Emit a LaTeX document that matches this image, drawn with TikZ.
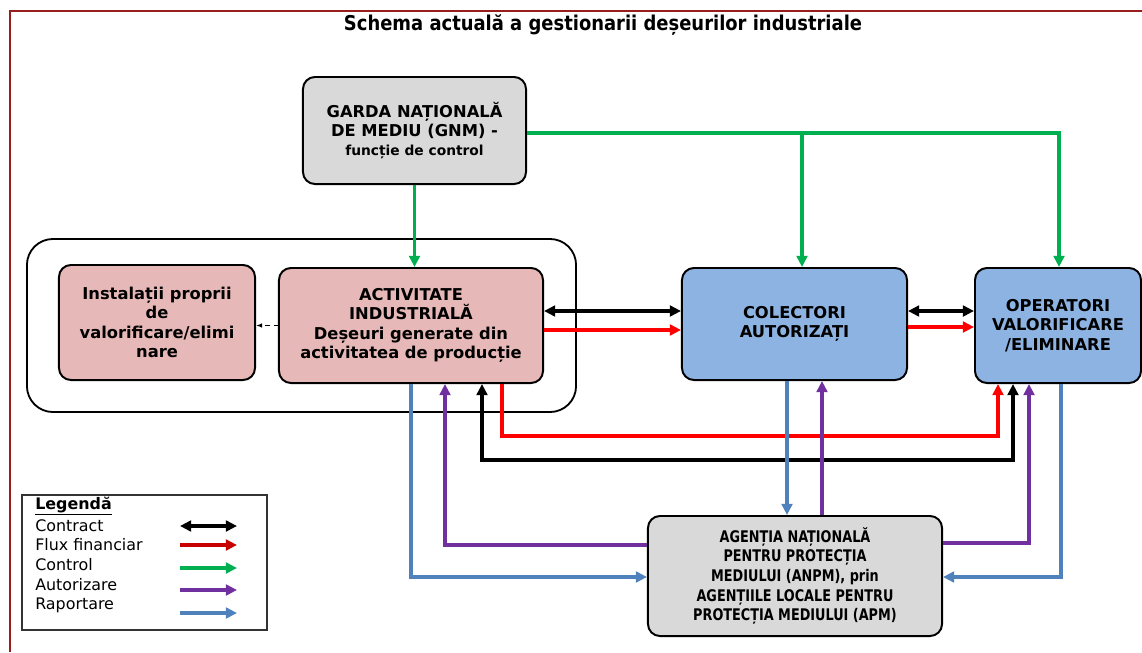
\documentclass[tikz,border=0pt]{standalone}
\usepackage{fontspec}
\setmainfont{DejaVu Sans}
\newfontfamily\condfont[FakeStretch=0.8]{DejaVu Sans}
\newfontfamily\titlefont[FakeStretch=0.88]{DejaVu Sans}
\definecolor{FrameRed}{RGB}{150, 30, 30}
\definecolor{BoxGray}{RGB}{217, 217, 217}
\definecolor{BoxPink}{RGB}{230, 184, 183}
\definecolor{BoxBlue}{RGB}{141, 179, 226}
\definecolor{FinRed}{RGB}{255, 0, 0}
\definecolor{LegRed}{RGB}{200, 0, 0}
\definecolor{CtrlGreen}{RGB}{0, 176, 80}
\definecolor{AutPurple}{RGB}{112, 48, 160}
\definecolor{RepBlue}{RGB}{79, 129, 189}
\usepackage{tikz}
\usetikzlibrary{arrows.meta}

\begin{document}
\begin{tikzpicture}[x=0.025cm, y=-0.025cm,
  bx/.style={draw=black, line width=1.4pt, rounded corners=0.3cm, align=center, font=\fontsize{11.6}{13.8}\selectfont\bfseries},
  ar/.style={line width=2.3pt, -{Triangle[length=2.8mm, width=2.7mm]}},
  dar/.style={line width=2.3pt, {Triangle[length=2.8mm, width=2.7mm]}-{Triangle[length=2.8mm, width=2.7mm]}},
  leg/.style={anchor=west, inner sep=0pt, font=\fontsize{11.3}{12}\selectfont}]
\useasboundingbox (0,0) rectangle (1142,652);
\draw[FrameRed, line width=1.4pt] (10,652) -- (10,11) -- (1142,11);
\node[font=\titlefont\fontsize{14.5}{16}\selectfont\bfseries] (title) at (603,25) {Schema actuală a gestionarii deșeurilor industriale};
\node[bx, fill=BoxGray, minimum width=5.575cm, minimum height=2.675cm] (gnm) at (414.5,130.5) {GARDA NAȚIONALĂ\\DE MEDIU (GNM) -\\{\fontsize{9.8}{12}\selectfont funcție de control}};
\node[draw=black, line width=1.3pt, rounded corners=0.65cm, minimum width=13.725cm, minimum height=4.325cm] (grp) at (301.5,325.5) {};
\node[bx, fill=BoxPink, minimum width=4.9cm, minimum height=2.875cm] (inst) at (157,322.5) {Instalații proprii\\de\\valorificare/elimi\\nare};
\node[bx, fill=BoxPink, minimum width=6.6cm, minimum height=2.875cm] (act) at (411,325.5) {ACTIVITATE\\INDUSTRIALĂ\\Deșeuri generate din\\activitatea de producție};
\node[bx, fill=BoxBlue, minimum width=5.625cm, minimum height=2.8cm] (col) at (794.5,324) {COLECTORI\\AUTORIZAȚI};
\node[bx, fill=BoxBlue, minimum width=4.15cm, minimum height=2.875cm] (op) at (1058,325.5) {OPERATORI\\VALORIFICARE\\/ELIMINARE};
\node[bx, fill=BoxGray, minimum width=7.35cm, minimum height=3cm, font=\condfont\fontsize{11.4}{14}\selectfont\bfseries] (anpm) at (795,576) {AGENȚIA NAȚIONALĂ\\PENTRU PROTECȚIA\\MEDIULUI (ANPM), prin\\AGENȚIILE LOCALE PENTRU\\PROTECȚIA MEDIULUI (APM)};
\draw[dashed, line width=1pt, -{Latex[length=1.5mm]}] (act.west) -- (act.west -| inst.east);
\draw[ar, CtrlGreen] (gnm.south) -- (gnm.south |- act.north);
\coordinate (gj) at (802,133);
\draw[ar, CtrlGreen] (gnm.east |- gj) -| (op.north -| 1059,0);
\draw[ar, CtrlGreen] (gj) -- (col.north -| gj);
\draw[dar] (act.east |- 0,311) -- (col.west |- 0,311);
\draw[ar, FinRed] (act.east |- 0,330) -- (col.west |- 0,330);
\draw[dar] (col.east |- 0,311) -- (op.west |- 0,311);
\draw[ar, FinRed] (col.east |- 0,327) -- (op.west |- 0,327);
\draw[ar, FinRed] (act.south -| 502,0) |- (998,436) -- (op.south -| 998,0);
\draw[dar] (act.south -| 482,0) |- (1013,460) -- (op.south -| 1013,0);
\draw[ar, RepBlue] (act.south -| 411,0) |- (anpm.west |- 0,577);
\draw[ar, AutPurple] (anpm.west |- 0,545) -| (act.south -| 445,0);
\draw[ar, RepBlue] (col.south -| 787,0) -- (anpm.north -| 787,0);
\draw[ar, AutPurple] (anpm.north -| 822,0) -- (col.south -| 822,0);
\draw[ar, AutPurple] (anpm.east |- 0,543) -| (op.south -| 1029,0);
\draw[ar, RepBlue] (op.south -| 1061,0) |- (anpm.east |- 0,577);
\node[draw=black!80, line width=0.8pt, minimum width=6.125cm, minimum height=3.375cm] (legend) at (144.5,562.5) {};
\node[leg, font=\fontsize{11.3}{12}\selectfont\bfseries] (lt) at (35,506) {\underline{Legendă}};
\node[leg] (l1) at (35,526) {Contract};
\node[leg] (l2) at (35,545) {Flux financiar};
\node[leg] (l3) at (35,565) {Control};
\node[leg] (l4) at (35,585) {Autorizare};
\node[leg] (l5) at (35,605) {Raportare};
\draw[dar] (180,526) -- (237,526);
\draw[ar, LegRed] (180,545) -- (237,545);
\draw[ar, CtrlGreen] (180,568) -- (237,568);
\draw[ar, AutPurple] (180,590) -- (237,590);
\draw[ar, RepBlue] (180,613) -- (237,613);
\end{tikzpicture}
\end{document}
